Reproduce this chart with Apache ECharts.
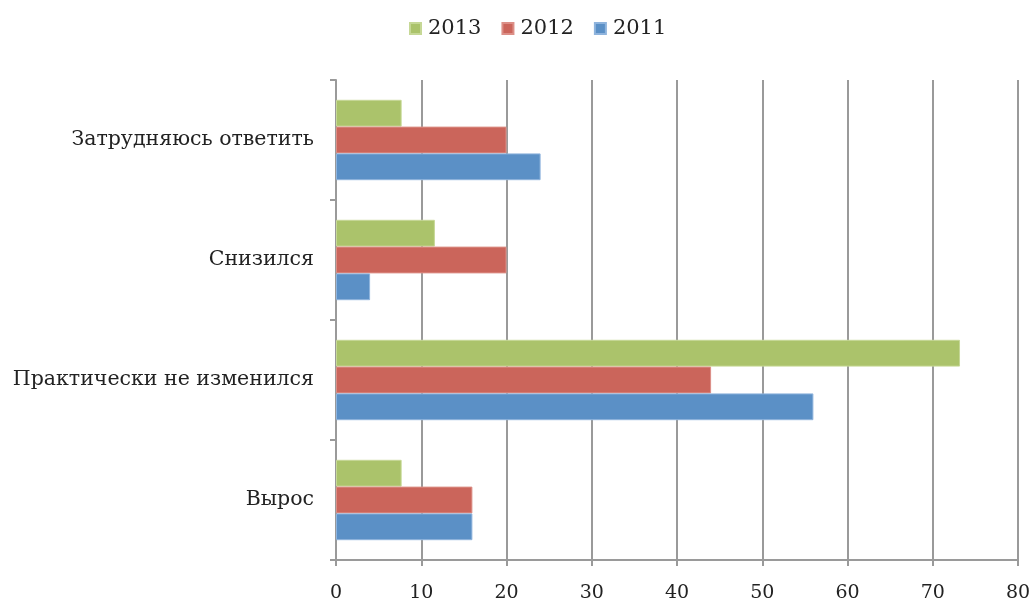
<!DOCTYPE html>
<html>
<head>
<meta charset="utf-8">
<script src="https://cdn.jsdelivr.net/npm/echarts@6/dist/echarts.min.js"></script>
<style>
  html, body { margin: 0; padding: 0; background: #fff; }
  #chart { width: 1034px; height: 603px; }
</style>
</head>
<body>
<div id="chart"></div>
<script>
// categories bottom-to-top, as ECharts lays out a y category axis
const categories = ['Вырос', 'Практически не изменился', 'Снизился', 'Затрудняюсь ответить']
const values2011 = [16, 56, 4, 24]
const values2012 = [16, 44, 20, 20]
const values2013 = [7.7, 73.2, 11.6, 7.7]
const xTicks = [0, 10, 20, 30, 40, 50, 60, 70, 80]

const font = 'DejaVu Serif'
const axisGray = '#9a9a9a'

const chart = echarts.init(document.getElementById('chart'))

const barSeries = (name, data, color, border) => ({
  name,
  type: 'bar',
  data,
  barGap: '0%',
  barCategoryGap: '33%',
  itemStyle: { color, borderColor: border, borderWidth: 1 }
})

const option = {
  animation: false,
  textStyle: { fontFamily: font },
  legend: {
    top: 13,
    left: 404,
    icon: 'rect',
    itemWidth: 11,
    itemHeight: 11,
    itemGap: 20,
    textStyle: { fontSize: 21, color: '#222', fontFamily: font, padding: [0, 0, 0, 2] },
    data: ['2013', '2012', '2011']
  },
  grid: {
    left: 336,
    right: 16,
    top: 80,
    bottom: 43
  },
  xAxis: {
    type: 'value',
    min: xTicks[0],
    max: xTicks[xTicks.length - 1],
    interval: 10,
    axisLine: { show: true, lineStyle: { color: axisGray, width: 2 } },
    axisTick: { show: true, length: 6, lineStyle: { color: axisGray, width: 2 } },
    axisLabel: { fontSize: 19, color: '#222', margin: 24, fontFamily: font },
    splitLine: { show: true, lineStyle: { color: axisGray, width: 2 } }
  },
  yAxis: {
    type: 'category',
    data: categories,
    axisLine: { show: true, lineStyle: { color: axisGray, width: 2 } },
    axisTick: { show: true, length: 6, lineStyle: { color: axisGray, width: 2 } },
    axisLabel: { fontSize: 20.5, color: '#222', margin: 22, fontFamily: font, padding: [6, 0, 0, 0] }
  },
  // first series is drawn on top inside each category
  series: [
    barSeries('2013', values2013, '#abc36b', '#c6d896'),
    barSeries('2012', values2012, '#cb655b', '#dc8f87'),
    barSeries('2011', values2011, '#5b90c6', '#8fb4dd')
  ]
}

chart.setOption(option)
</script>
</body>
</html>
